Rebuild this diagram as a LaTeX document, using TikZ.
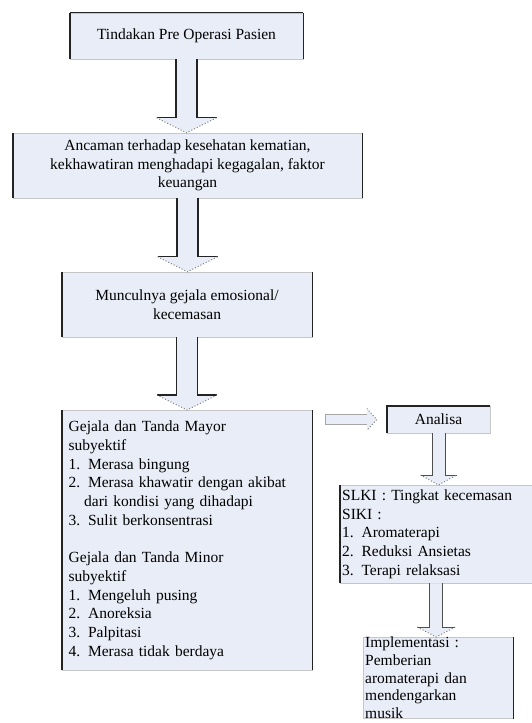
\documentclass[tikz,border=0pt]{standalone}
\usepackage{fontspec}
\setmainfont{Liberation Serif}
\usetikzlibrary{calc}

\definecolor{boxfill}{RGB}{233,237,247}
\definecolor{edgedark}{RGB}{35,35,35}

\tikzset{
  box/.style={draw=gray!45, fill=boxfill, inner sep=0pt, font=\fontsize{15.5}{18.7}\selectfont},
  sideline/.style={edgedark, line width=1.4pt},
  shaftline/.style={edgedark, line width=1.2pt},
  thinshaft/.style={edgedark!80, line width=.9pt},
  headline/.style={gray, dotted, line width=1pt},
}

% block arrow down: from node, to node, half shaft, half wing, head length
\newcommand{\blockdown}[6][shaftline]{%
  \coordinate (tip) at (#2.south |- #3.north);
  \fill[boxfill] ($(#2.south)+(-#4,0)$) -- ($(tip)+(-#4,-#6)$) -- ($(tip)+(-#5,-#6)$) -- (tip)
    -- ($(tip)+(#5,-#6)$) -- ($(tip)+(#4,-#6)$) -- ($(#2.south)+(#4,0)$) -- cycle;
  \draw[#1] ($(#2.south)+(-#4,0)$) -- ($(tip)+(-#4,-#6)$) -- ($(tip)+(-#5,-#6)$);
  \draw[#1] ($(#2.south)+(#4,0)$) -- ($(tip)+(#4,-#6)$) -- ($(tip)+(#5,-#6)$);
  \draw[headline] ($(tip)+(-#5,-#6)$) -- (tip) -- ($(tip)+(#5,-#6)$);
}

\begin{document}
\begin{tikzpicture}[x=1pt, y=-1pt]
  \useasboundingbox (0,0) rectangle (532,723);
  \clip (0,0) rectangle (532,723);

  % left column
  \node [box, minimum width=233, minimum height=46] (pre) at (186.5,36) {Tindakan Pre Operasi Pasien};
  \node [box, minimum width=349, minimum height=65, align=center] (ancaman) at (187.5,165.5)
    {Ancaman terhadap kesehatan kematian,\\ kekhawatiran menghadapi kegagalan, faktor\\ keuangan};
  \node [box, minimum width=250, minimum height=65, align=center] (gejala) at (187,304.5)
    {Munculnya gejala emosional/\\ kecemasan};
  \node [box, anchor=north west, minimum width=250, minimum height=260, text width=237, inner xsep=6.5pt, align=left] (tanda) at (62,410)
    {Gejala dan Tanda Mayor\\ subyektif\\ 1. Merasa bingung\\ 2. Merasa khawatir dengan akibat\\ \hspace*{1em}dari kondisi yang dihadapi\\ 3. Sulit berkonsentrasi\\[18.7pt]
     Gejala dan Tanda Minor\\ subyektif\\ 1. Mengeluh pusing\\ 2. Anoreksia\\ 3. Palpitasi\\ 4. Merasa tidak berdaya};

  % right column
  \node [box, minimum width=103, minimum height=27] (analisa) at (438.5,419.5) {Analisa};
  \node [box, anchor=north west, minimum width=192, minimum height=98, text width=188, inner xsep=2pt, align=left] (slki) at (340,485)
    {SLKI : Tingkat kecemasan\\ SIKI :\\ 1. Aromaterapi\\ 2. Reduksi Ansietas\\ 3. Terapi relaksasi};
  \node [box, anchor=north west, minimum width=150, text width=146, inner xsep=2pt, inner ysep=0pt, align=left,
         font=\fontsize{15.5}{17.6}\selectfont] (impl) at (363,637)
    {Implementasi :\\ Pemberian\\ aromaterapi dan\\ mendengarkan\\ musik\\[6pt]};

  % dark edges
  \draw [sideline] (pre.north west) -- (pre.south west);
  \draw [sideline] (pre.north east) -- (pre.south east);
  \draw [edgedark, line width=.8pt] (pre.north west) -- (pre.north east);
  \draw [sideline] (ancaman.north west) -- (ancaman.south west);
  \draw [sideline] (ancaman.north east) -- (ancaman.south east);
  \draw [sideline] (gejala.north west) -- (gejala.south west);
  \draw [sideline] (gejala.north east) -- (gejala.south east);
  \draw [sideline] (tanda.north west) -- (tanda.south west);
  \draw [sideline] (tanda.north east) -- (tanda.south east);
  \draw [sideline] (analisa.south west) -- (analisa.north west) -- (analisa.north east);
  \draw [sideline] (slki.north west) -- (slki.south west);
  \draw [sideline] (impl.north east) -- (impl.south east);

  % arrows
  \blockdown{pre}{ancaman}{10.5}{30}{15}
  \blockdown{ancaman}{gejala}{10.5}{30}{15}
  \blockdown{gejala}{tanda}{10.5}{30}{15}
  \blockdown[thinshaft]{analisa}{slki}{6.5}{18}{10}
  \blockdown[thinshaft]{slki}{impl}{6.5}{19}{10}

  % arrow to analisa
  \coordinate (h0) at ($(tanda.east |- analisa.west)+(13,0)$);
  \coordinate (h1) at ($(analisa.west)+(-10,0)$);
  \fill [boxfill] ($(h0)+(0,-5)$) -- ($(h1)+(-10,-5)$) -- ($(h1)+(-10,-11)$) -- (h1)
    -- ($(h1)+(-10,11)$) -- ($(h1)+(-10,5)$) -- ($(h0)+(0,5)$) -- cycle;
  \draw [gray!70, line width=.8pt] ($(h1)+(-10,-5)$) -- ($(h0)+(0,-5)$) -- ($(h0)+(0,5)$) -- ($(h1)+(-10,5)$);
  \draw [headline] ($(h1)+(-10,-11)$) -- (h1) -- ($(h1)+(-10,11)$);
\end{tikzpicture}
\end{document}
